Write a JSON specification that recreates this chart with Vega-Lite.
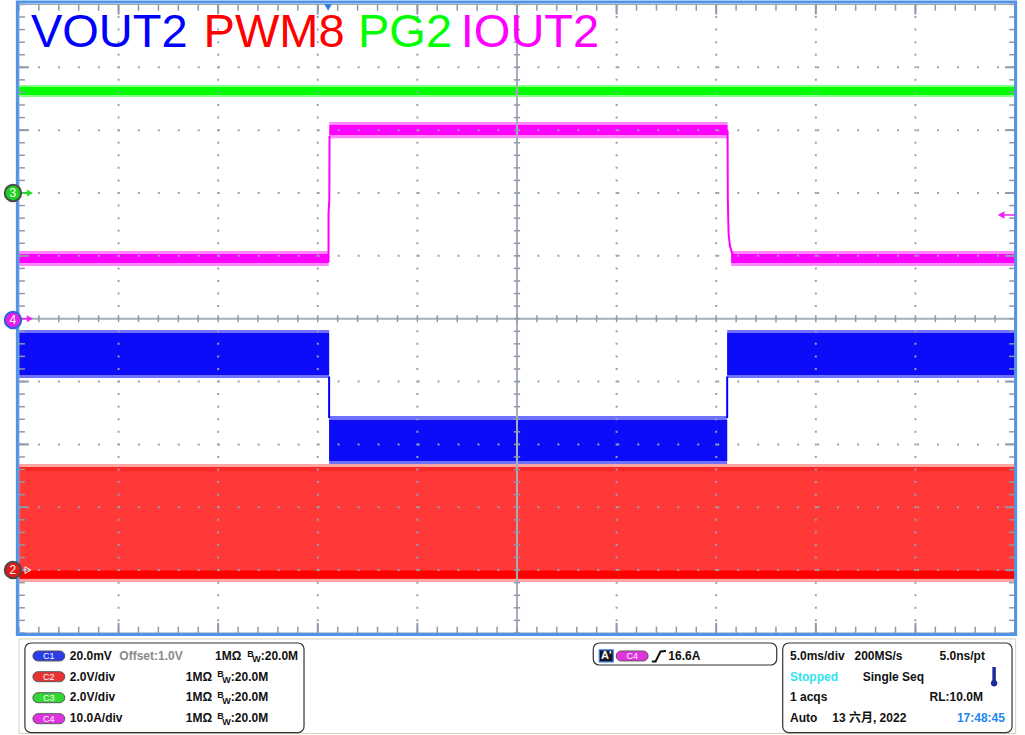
{
"$schema":"https://vega.github.io/schema/vega-lite/v6.json",
"width":1025,"height":735,
"autosize":{"type":"fit","contains":"padding"},
"padding":0,
"background":"#ffffff",
"config":{"view":{"stroke":null},"text":{"font":"Liberation Sans, Noto Sans CJK SC"},"axis":{"disable":true}},
"resolve":{"scale":{"color":"independent","fill":"independent","stroke":"independent"}},
"datasets":{
"frames":[
{"n":"panel","t":-25.0,"t2":25.03,"v":-5.096,"v2":-6.60},
{"n":"grey","t":-25,"t2":25,"v":5,"v2":-5},
{"n":"blue","t":-25.08,"t2":25.03,"v":5.039,"v2":-5.025},
{"n":"box","t":-24.70,"t2":-10.69,"v":-5.160,"v2":-6.585},
{"n":"box","t":3.829,"t2":13.038,"v":-5.160,"v2":-5.510},
{"n":"box","t":13.338,"t2":24.850,"v":-5.160,"v2":-6.585},
{"n":"abox","t":4.129,"t2":4.830,"v":-5.271,"v2":-5.462}
],
"bands":[
{"ch":"C2","k":"pk","t":-25,"t2":25,"v":-2.312,"v2":-4.189},
{"ch":"C2","k":"core","t":-25,"t2":25,"v":-2.359,"v2":-4.141},
{"ch":"C1","k":"pk","t":-25,"t2":-9.43,"v":-0.18,"v2":-0.944},
{"ch":"C1","k":"core","t":-25,"t2":-9.43,"v":-0.228,"v2":-0.896},
{"ch":"C1","k":"pk","t":-9.43,"t2":10.55,"v":-1.548,"v2":-2.312},
{"ch":"C1","k":"core","t":-9.43,"t2":10.55,"v":-1.612,"v2":-2.264},
{"ch":"C1","k":"pk","t":10.55,"t2":25,"v":-0.18,"v2":-0.944},
{"ch":"C1","k":"core","t":10.55,"t2":25,"v":-0.228,"v2":-0.896},
{"ch":"C4","k":"pk","t":-25,"t2":-9.45,"v":1.077,"v2":0.838},
{"ch":"C4","k":"core","t":-25,"t2":-9.45,"v":1.029,"v2":0.886},
{"ch":"C4","k":"pk","t":-9.42,"t2":10.57,"v":3.13,"v2":2.87},
{"ch":"C4","k":"core","t":-9.42,"t2":10.57,"v":3.082,"v2":2.923},
{"ch":"C4","k":"pk","t":10.75,"t2":25,"v":1.077,"v2":0.838},
{"ch":"C4","k":"core","t":10.75,"t2":25,"v":1.029,"v2":0.886},
{"ch":"C3","k":"pk","t":-25,"t2":25,"v":3.718,"v2":3.527},
{"ch":"C3","k":"core","t":-25,"t2":25,"v":3.686,"v2":3.559}
],
"levels":[{"ch":"C2","lvl":"high","v":-2.39},{"ch":"C2","lvl":"low","v":-4.07}],
"edges":[
{"ch":"C1","seg":"b1","i":0,"t":-9.43,"v":-0.92},{"ch":"C1","seg":"b1","i":1,"t":-9.43,"v":-1.58},
{"ch":"C1","seg":"b2","i":0,"t":10.55,"v":-1.58},{"ch":"C1","seg":"b2","i":1,"t":10.55,"v":-0.92},
{"ch":"C4","seg":"m1","i":0,"t":-9.46,"v":0.9},{"ch":"C4","seg":"m1","i":1,"t":-9.46,"v":1.68},{"ch":"C4","seg":"m1","i":2,"t":-9.42,"v":1.89},{"ch":"C4","seg":"m1","i":3,"t":-9.41,"v":2.91},
{"ch":"C4","seg":"m2","i":0,"t":10.571,"v":3.0},{"ch":"C4","seg":"m2","i":1,"t":10.581,"v":1.928},{"ch":"C4","seg":"m2","i":2,"t":10.621,"v":1.355},{"ch":"C4","seg":"m2","i":3,"t":10.686,"v":1.164},{"ch":"C4","seg":"m2","i":4,"t":10.786,"v":1.053},{"ch":"C4","seg":"m2","i":5,"t":10.936,"v":0.99}
],
"vmaj":[{"t":-20},{"t":-15},{"t":-10},{"t":-5},{"t":5},{"t":10},{"t":15},{"t":20}],
"hmaj":[{"v":-4},{"v":-3},{"v":-2},{"v":-1},{"v":1},{"v":2},{"v":3},{"v":4}],
"center":[{"t":0,"v":0}],
"tmin":[{"t":-25},{"t":-24},{"t":-23},{"t":-22},{"t":-21},{"t":-20},{"t":-19},{"t":-18},{"t":-17},{"t":-16},{"t":-15},{"t":-14},{"t":-13},{"t":-12},{"t":-11},{"t":-10},{"t":-9},{"t":-8},{"t":-7},{"t":-6},{"t":-5},{"t":-4},{"t":-3},{"t":-2},{"t":-1},{"t":0},{"t":1},{"t":2},{"t":3},{"t":4},{"t":5},{"t":6},{"t":7},{"t":8},{"t":9},{"t":10},{"t":11},{"t":12},{"t":13},{"t":14},{"t":15},{"t":16},{"t":17},{"t":18},{"t":19},{"t":20},{"t":21},{"t":22},{"t":23},{"t":24},{"t":25}],
"vmin":[{"v":-5},{"v":-4.8},{"v":-4.6},{"v":-4.4},{"v":-4.2},{"v":-4},{"v":-3.8},{"v":-3.6},{"v":-3.4},{"v":-3.2},{"v":-3},{"v":-2.8},{"v":-2.6},{"v":-2.4},{"v":-2.2},{"v":-2},{"v":-1.8},{"v":-1.6},{"v":-1.4},{"v":-1.2},{"v":-1},{"v":-0.8},{"v":-0.6},{"v":-0.4},{"v":-0.2},{"v":0},{"v":0.2},{"v":0.4},{"v":0.6},{"v":0.8},{"v":1},{"v":1.2},{"v":1.4},{"v":1.6},{"v":1.8},{"v":2},{"v":2.2},{"v":2.4},{"v":2.6},{"v":2.8},{"v":3},{"v":3.2},{"v":3.4},{"v":3.6},{"v":3.8},{"v":4},{"v":4.2},{"v":4.4},{"v":4.6},{"v":4.8},{"v":5}],
"markers":[{"id":"3","ch":"C3","t":-25.3,"v":2.0},{"id":"4","ch":"C4","t":-25.3,"v":-0.02},{"id":"2","ch":"C2","t":-25.3,"v":-4.0}],
"titles":[{"s":"VOUT2","ch":"C1","t":-24.40,"v":4.33},{"s":"PWM8","ch":"C2","t":-15.73,"v":4.33},{"s":"PG2","ch":"C3","t":-7.98,"v":4.33},{"s":"IOUT2","ch":"C4","t":-2.82,"v":4.33}],
"pills":[
{"ch":"C1","lab":"C1","t":-24.299,"t2":-22.698,"v":-5.287,"v2":-5.446,"tc":-23.498,"vc":-5.367},
{"ch":"C2","lab":"C2","t":-24.299,"t2":-22.698,"v":-5.617,"v2":-5.776,"tc":-23.498,"vc":-5.696},
{"ch":"C3","lab":"C3","t":-24.299,"t2":-22.698,"v":-5.951,"v2":-6.110,"tc":-23.498,"vc":-6.030},
{"ch":"C4","lab":"C4","t":-24.299,"t2":-22.698,"v":-6.285,"v2":-6.444,"tc":-23.498,"vc":-6.364},
{"ch":"C4","lab":"C4","t":4.980,"t2":6.582,"v":-5.287,"v2":-5.446,"tc":5.781,"vc":-5.367}
],
"ptext":[
{"s":"20.0mV","t":-22.447,"v":-5.430,"k":"norm"},
{"s":"Offset:1.0V","t":-19.96,"v":-5.430,"k":"grey"},
{"s":"1MΩ","t":-15.155,"v":-5.430,"k":"norm"},
{"s":"B","t":-13.539,"v":-5.383,"k":"sup"},
{"s":"W","t":-13.288,"v":-5.470,"k":"sup"},
{"s":":20.0M","t":-12.863,"v":-5.430,"k":"norm"},
{"s":"2.0V/div","t":-22.447,"v":-5.757,"k":"norm"},
{"s":"1MΩ","t":-16.627,"v":-5.757,"k":"norm"},
{"s":"B","t":-15.050,"v":-5.709,"k":"sup"},
{"s":"W","t":-14.790,"v":-5.796,"k":"sup"},
{"s":":20.0M","t":-14.364,"v":-5.757,"k":"norm"},
{"s":"2.0V/div","t":-22.447,"v":-6.088,"k":"norm"},
{"s":"1MΩ","t":-16.627,"v":-6.088,"k":"norm"},
{"s":"B","t":-15.050,"v":-6.040,"k":"sup"},
{"s":"W","t":-14.790,"v":-6.127,"k":"sup"},
{"s":":20.0M","t":-14.364,"v":-6.088,"k":"norm"},
{"s":"10.0A/div","t":-22.447,"v":-6.417,"k":"norm"},
{"s":"1MΩ","t":-16.627,"v":-6.417,"k":"norm"},
{"s":"B","t":-15.050,"v":-6.369,"k":"sup"},
{"s":"W","t":-14.790,"v":-6.457,"k":"sup"},
{"s":":20.0M","t":-14.364,"v":-6.417,"k":"norm"},
{"s":"16.6A","t":7.598,"v":-5.430,"k":"norm"},
{"s":"5.0ms/div","t":13.704,"v":-5.430,"k":"norm"},
{"s":"200MS/s","t":16.942,"v":-5.430,"k":"norm"},
{"s":"5.0ns/pt","t":21.211,"v":-5.430,"k":"norm"},
{"s":"Stopped","t":13.704,"v":-5.757,"k":"cyan"},
{"s":"Single Seq","t":17.357,"v":-5.757,"k":"norm"},
{"s":"1 acqs","t":13.704,"v":-6.088,"k":"norm"},
{"s":"RL:10.0M","t":20.711,"v":-6.088,"k":"norm"},
{"s":"Auto","t":13.704,"v":-6.417,"k":"norm"},
{"s":"13 六月, 2022","t":15.826,"v":-6.417,"k":"norm"},
{"s":"17:48:45","t":22.082,"v":-6.417,"k":"blue"}
],
"edgesym":[{"i":0,"t":6.767,"v":-5.454},{"i":1,"t":6.957,"v":-5.454},{"i":2,"t":7.207,"v":-5.295},{"i":3,"t":7.482,"v":-5.287}]
},
"layer":[
{"data":{"name":"frames"},"transform":[{"filter":"datum.n==='panel'"}],"mark":{"type":"rect","fill":"#ffffff","stroke":"#d9cfb6","strokeWidth":1},"encoding":{"x":{"field":"t","type":"quantitative","scale":{"domain":[-25.8,25.5],"nice":false,"zero":false},"axis":null},"x2":{"field":"t2"},"y":{"field":"v","type":"quantitative","scale":{"domain":[-6.624,5.071],"nice":false,"zero":false},"axis":null},"y2":{"field":"v2"}}},
{"data":{"name":"bands"},"transform":[{"filter":"datum.k==='pk'"}],"mark":{"type":"rect"},"encoding":{"x":{"field":"t","type":"quantitative","scale":{"domain":[-25.8,25.5],"nice":false,"zero":false},"axis":null},"x2":{"field":"t2"},"y":{"field":"v","type":"quantitative","scale":{"domain":[-6.624,5.071],"nice":false,"zero":false},"axis":null},"y2":{"field":"v2"},"color":{"field":"ch","type":"nominal","scale":{"domain":["C1","C2","C3","C4"],"range":["#7070ff","#ffa3a3","#86ff86","#ff86ff"]},"legend":null}}},
{"data":{"name":"bands"},"transform":[{"filter":"datum.k==='core'"}],"mark":{"type":"rect"},"encoding":{"x":{"field":"t","type":"quantitative","scale":{"domain":[-25.8,25.5],"nice":false,"zero":false},"axis":null},"x2":{"field":"t2"},"y":{"field":"v","type":"quantitative","scale":{"domain":[-6.624,5.071],"nice":false,"zero":false},"axis":null},"y2":{"field":"v2"},"color":{"field":"ch","type":"nominal","scale":{"domain":["C1","C2","C3","C4"],"range":["#0c0cf8","#ff3838","#00ff00","#ff00ff"]},"legend":null}}},
{"data":{"name":"levels"},"transform":[{"filter":"datum.lvl==='high'"}],"mark":{"type":"rule","color":"#ff2626","strokeWidth":4},"encoding":{"x":{"datum":-25,"type":"quantitative","scale":{"domain":[-25.8,25.5],"nice":false,"zero":false},"axis":null},"x2":{"datum":25},"y":{"field":"v","type":"quantitative","scale":{"domain":[-6.624,5.071],"nice":false,"zero":false},"axis":null}}},
{"data":{"name":"levels"},"transform":[{"filter":"datum.lvl==='low'"}],"mark":{"type":"rule","color":"#ff0000","strokeWidth":8},"encoding":{"x":{"datum":-25,"type":"quantitative","scale":{"domain":[-25.8,25.5],"nice":false,"zero":false},"axis":null},"x2":{"datum":25},"y":{"field":"v","type":"quantitative","scale":{"domain":[-6.624,5.071],"nice":false,"zero":false},"axis":null}}},
{"data":{"name":"edges"},"mark":{"type":"line","strokeWidth":2},"encoding":{"x":{"field":"t","type":"quantitative","scale":{"domain":[-25.8,25.5],"nice":false,"zero":false},"axis":null},"y":{"field":"v","type":"quantitative","scale":{"domain":[-6.624,5.071],"nice":false,"zero":false},"axis":null},"detail":{"field":"seg"},"order":{"field":"i","type":"quantitative"},"color":{"field":"ch","type":"nominal","scale":{"domain":["C1","C4"],"range":["#0000ff","#ff00ff"]},"legend":null}}},
{"data":{"name":"vmaj"},"mark":{"type":"rule","color":"#98a1b1","strokeWidth":2,"strokeDash":[2,10.57],"strokeDashOffset":1},"encoding":{"x":{"field":"t","type":"quantitative","scale":{"domain":[-25.8,25.5],"nice":false,"zero":false},"axis":null},"y":{"datum":-5,"type":"quantitative","scale":{"domain":[-6.624,5.071],"nice":false,"zero":false},"axis":null},"y2":{"datum":5}}},
{"data":{"name":"hmaj"},"mark":{"type":"rule","color":"#98a1b1","strokeWidth":2,"strokeDash":[2,17.98],"strokeDashOffset":1},"encoding":{"x":{"datum":-25,"type":"quantitative","scale":{"domain":[-25.8,25.5],"nice":false,"zero":false},"axis":null},"x2":{"datum":25},"y":{"field":"v","type":"quantitative","scale":{"domain":[-6.624,5.071],"nice":false,"zero":false},"axis":null}}},
{"data":{"name":"center"},"mark":{"type":"rule","color":"#a6aebb","strokeWidth":2},"encoding":{"x":{"field":"t","type":"quantitative","scale":{"domain":[-25.8,25.5],"nice":false,"zero":false},"axis":null},"y":{"datum":-5,"type":"quantitative","scale":{"domain":[-6.624,5.071],"nice":false,"zero":false},"axis":null},"y2":{"datum":5}}},
{"data":{"name":"center"},"mark":{"type":"rule","color":"#a6aebb","strokeWidth":2},"encoding":{"x":{"datum":-25,"type":"quantitative","scale":{"domain":[-25.8,25.5],"nice":false,"zero":false},"axis":null},"x2":{"datum":25},"y":{"field":"v","type":"quantitative","scale":{"domain":[-6.624,5.071],"nice":false,"zero":false},"axis":null}}},
{"data":{"name":"tmin"},"mark":{"type":"rule","color":"#8f99aa","strokeWidth":1.5},"encoding":{"x":{"field":"t","type":"quantitative","scale":{"domain":[-25.8,25.5],"nice":false,"zero":false},"axis":null},"y":{"datum":-0.055,"type":"quantitative","scale":{"domain":[-6.624,5.071],"nice":false,"zero":false},"axis":null},"y2":{"datum":0.055}}},
{"data":{"name":"vmin"},"mark":{"type":"rule","color":"#8f99aa","strokeWidth":1.5},"encoding":{"x":{"datum":-0.16,"type":"quantitative","scale":{"domain":[-25.8,25.5],"nice":false,"zero":false},"axis":null},"x2":{"datum":0.16},"y":{"field":"v","type":"quantitative","scale":{"domain":[-6.624,5.071],"nice":false,"zero":false},"axis":null}}},
{"data":{"name":"tmin"},"mark":{"type":"rule","color":"#8f99aa","strokeWidth":1.5},"encoding":{"x":{"field":"t","type":"quantitative","scale":{"domain":[-25.8,25.5],"nice":false,"zero":false},"axis":null},"y":{"datum":5,"type":"quantitative","scale":{"domain":[-6.624,5.071],"nice":false,"zero":false},"axis":null},"y2":{"datum":4.9}}},
{"data":{"name":"tmin"},"mark":{"type":"rule","color":"#8f99aa","strokeWidth":1.5},"encoding":{"x":{"field":"t","type":"quantitative","scale":{"domain":[-25.8,25.5],"nice":false,"zero":false},"axis":null},"y":{"datum":-5,"type":"quantitative","scale":{"domain":[-6.624,5.071],"nice":false,"zero":false},"axis":null},"y2":{"datum":-4.9}}},
{"data":{"name":"vmin"},"mark":{"type":"rule","color":"#8f99aa","strokeWidth":1.5},"encoding":{"x":{"datum":-25,"type":"quantitative","scale":{"domain":[-25.8,25.5],"nice":false,"zero":false},"axis":null},"x2":{"datum":-24.7},"y":{"field":"v","type":"quantitative","scale":{"domain":[-6.624,5.071],"nice":false,"zero":false},"axis":null}}},
{"data":{"name":"vmin"},"mark":{"type":"rule","color":"#8f99aa","strokeWidth":1.5},"encoding":{"x":{"datum":25,"type":"quantitative","scale":{"domain":[-25.8,25.5],"nice":false,"zero":false},"axis":null},"x2":{"datum":24.7},"y":{"field":"v","type":"quantitative","scale":{"domain":[-6.624,5.071],"nice":false,"zero":false},"axis":null}}},
{"data":{"name":"vmaj"},"mark":{"type":"rule","color":"#8f99aa","strokeWidth":2},"encoding":{"x":{"field":"t","type":"quantitative","scale":{"domain":[-25.8,25.5],"nice":false,"zero":false},"axis":null},"y":{"datum":5,"type":"quantitative","scale":{"domain":[-6.624,5.071],"nice":false,"zero":false},"axis":null},"y2":{"datum":4.84}}},
{"data":{"name":"vmaj"},"mark":{"type":"rule","color":"#8f99aa","strokeWidth":2},"encoding":{"x":{"field":"t","type":"quantitative","scale":{"domain":[-25.8,25.5],"nice":false,"zero":false},"axis":null},"y":{"datum":-5,"type":"quantitative","scale":{"domain":[-6.624,5.071],"nice":false,"zero":false},"axis":null},"y2":{"datum":-4.84}}},
{"data":{"name":"hmaj"},"mark":{"type":"rule","color":"#8f99aa","strokeWidth":2},"encoding":{"x":{"datum":-25,"type":"quantitative","scale":{"domain":[-25.8,25.5],"nice":false,"zero":false},"axis":null},"x2":{"datum":-24.5},"y":{"field":"v","type":"quantitative","scale":{"domain":[-6.624,5.071],"nice":false,"zero":false},"axis":null}}},
{"data":{"name":"hmaj"},"mark":{"type":"rule","color":"#8f99aa","strokeWidth":2},"encoding":{"x":{"datum":25,"type":"quantitative","scale":{"domain":[-25.8,25.5],"nice":false,"zero":false},"axis":null},"x2":{"datum":24.5},"y":{"field":"v","type":"quantitative","scale":{"domain":[-6.624,5.071],"nice":false,"zero":false},"axis":null}}},
{"data":{"name":"frames"},"transform":[{"filter":"datum.n==='grey'"}],"mark":{"type":"rect","fill":"#ffffff","fillOpacity":0,"stroke":"#9aa3b3","strokeWidth":1},"encoding":{"x":{"field":"t","type":"quantitative","scale":{"domain":[-25.8,25.5],"nice":false,"zero":false},"axis":null},"x2":{"field":"t2"},"y":{"field":"v","type":"quantitative","scale":{"domain":[-6.624,5.071],"nice":false,"zero":false},"axis":null},"y2":{"field":"v2"}}},
{"data":{"name":"frames"},"transform":[{"filter":"datum.n==='blue'"}],"mark":{"type":"rect","fill":"#ffffff","fillOpacity":0,"stroke":"#4f94e8","strokeWidth":3},"encoding":{"x":{"field":"t","type":"quantitative","scale":{"domain":[-25.8,25.5],"nice":false,"zero":false},"axis":null},"x2":{"field":"t2"},"y":{"field":"v","type":"quantitative","scale":{"domain":[-6.624,5.071],"nice":false,"zero":false},"axis":null},"y2":{"field":"v2"}}},
{"data":{"values":[{"t":-24.95,"t2":-24.6,"v":2.0,"ch":"C3"},{"t":-24.95,"t2":-24.6,"v":0.0,"ch":"C4"},{"t":24.4,"t2":25.0,"v":1.65,"ch":"C4"}]},"mark":{"type":"rule","strokeWidth":1.5},"encoding":{"x":{"field":"t","type":"quantitative","scale":{"domain":[-25.8,25.5],"nice":false,"zero":false},"axis":null},"x2":{"field":"t2"},"y":{"field":"v","type":"quantitative","scale":{"domain":[-6.624,5.071],"nice":false,"zero":false},"axis":null},"color":{"field":"ch","type":"nominal","scale":{"domain":["C3","C4"],"range":["#22dd22","#ee22ee"]},"legend":null}}},
{"data":{"values":[{"t":-24.45,"v":2.0,"ch":"C3"},{"t":-24.45,"v":0.0,"ch":"C4"}]},"mark":{"type":"point","shape":"triangle-right","filled":true,"size":50,"opacity":1},"encoding":{"x":{"field":"t","type":"quantitative","scale":{"domain":[-25.8,25.5],"nice":false,"zero":false},"axis":null},"y":{"field":"v","type":"quantitative","scale":{"domain":[-6.624,5.071],"nice":false,"zero":false},"axis":null},"color":{"field":"ch","type":"nominal","scale":{"domain":["C3","C4"],"range":["#22dd22","#ee22ee"]},"legend":null}}},
{"data":{"values":[{"t":-24.55,"v":-4.0}]},"mark":{"type":"point","shape":"triangle-right","filled":false,"size":45,"stroke":"#ffffff","strokeWidth":1,"opacity":1},"encoding":{"x":{"field":"t","type":"quantitative","scale":{"domain":[-25.8,25.5],"nice":false,"zero":false},"axis":null},"y":{"field":"v","type":"quantitative","scale":{"domain":[-6.624,5.071],"nice":false,"zero":false},"axis":null}}},
{"data":{"values":[{"t":24.3,"v":1.65}]},"mark":{"type":"point","shape":"triangle-left","filled":true,"size":60,"color":"#ee22ee","opacity":1},"encoding":{"x":{"field":"t","type":"quantitative","scale":{"domain":[-25.8,25.5],"nice":false,"zero":false},"axis":null},"y":{"field":"v","type":"quantitative","scale":{"domain":[-6.624,5.071],"nice":false,"zero":false},"axis":null}}},
{"data":{"values":[{"t":-9.48,"v":4.955}]},"mark":{"type":"point","shape":"triangle-down","filled":true,"size":60,"color":"#2f7fe0","opacity":1},"encoding":{"x":{"field":"t","type":"quantitative","scale":{"domain":[-25.8,25.5],"nice":false,"zero":false},"axis":null},"y":{"field":"v","type":"quantitative","scale":{"domain":[-6.624,5.071],"nice":false,"zero":false},"axis":null}}},
{"data":{"name":"markers"},"mark":{"type":"point","shape":"circle","filled":true,"size":270,"strokeWidth":2,"opacity":1},"encoding":{"x":{"field":"t","type":"quantitative","scale":{"domain":[-25.8,25.5],"nice":false,"zero":false},"axis":null},"y":{"field":"v","type":"quantitative","scale":{"domain":[-6.624,5.071],"nice":false,"zero":false},"axis":null},"fill":{"field":"ch","type":"nominal","scale":{"domain":["C2","C3","C4"],"range":["#e01a1a","#1fd11f","#e51fe5"]},"legend":null},"stroke":{"field":"ch","type":"nominal","scale":{"domain":["C2","C3","C4"],"range":["#4a4a4a","#4a4a4a","#2d62dd"]},"legend":null}}},
{"data":{"name":"markers"},"mark":{"type":"text","color":"#ffffff","fontSize":12,"align":"center","baseline":"middle"},"encoding":{"x":{"field":"t","type":"quantitative","scale":{"domain":[-25.8,25.5],"nice":false,"zero":false},"axis":null},"y":{"field":"v","type":"quantitative","scale":{"domain":[-6.624,5.071],"nice":false,"zero":false},"axis":null},"text":{"field":"id"}}},
{"data":{"name":"titles"},"mark":{"type":"text","fontSize":47,"align":"left","baseline":"alphabetic","font":"Liberation Sans"},"encoding":{"x":{"field":"t","type":"quantitative","scale":{"domain":[-25.8,25.5],"nice":false,"zero":false},"axis":null},"y":{"field":"v","type":"quantitative","scale":{"domain":[-6.624,5.071],"nice":false,"zero":false},"axis":null},"text":{"field":"s"},"color":{"field":"ch","type":"nominal","scale":{"domain":["C1","C2","C3","C4"],"range":["#0000ff","#ff0000","#00ff00","#ff00ff"]},"legend":null}}},
{"data":{"name":"frames"},"transform":[{"filter":"datum.n==='box'"}],"mark":{"type":"rect","fill":"#ffffff","fillOpacity":0,"stroke":"#333333","strokeWidth":1.2,"cornerRadius":6},"encoding":{"x":{"field":"t","type":"quantitative","scale":{"domain":[-25.8,25.5],"nice":false,"zero":false},"axis":null},"x2":{"field":"t2"},"y":{"field":"v","type":"quantitative","scale":{"domain":[-6.624,5.071],"nice":false,"zero":false},"axis":null},"y2":{"field":"v2"}}},
{"data":{"name":"pills"},"mark":{"type":"rect","cornerRadius":5.5,"stroke":"#5a5a5a","strokeWidth":1},"encoding":{"x":{"field":"t","type":"quantitative","scale":{"domain":[-25.8,25.5],"nice":false,"zero":false},"axis":null},"x2":{"field":"t2"},"y":{"field":"v","type":"quantitative","scale":{"domain":[-6.624,5.071],"nice":false,"zero":false},"axis":null},"y2":{"field":"v2"},"color":{"field":"ch","type":"nominal","scale":{"domain":["C1","C2","C3","C4"],"range":["#2b3ce8","#e83333","#33d633","#e033e0"]},"legend":null}}},
{"data":{"name":"pills"},"mark":{"type":"text","color":"#ffffff","fontSize":9,"align":"center","baseline":"middle"},"encoding":{"x":{"field":"tc","type":"quantitative","scale":{"domain":[-25.8,25.5],"nice":false,"zero":false},"axis":null},"y":{"field":"vc","type":"quantitative","scale":{"domain":[-6.624,5.071],"nice":false,"zero":false},"axis":null},"text":{"field":"lab"}}},
{"data":{"name":"frames"},"transform":[{"filter":"datum.n==='abox'"}],"mark":{"type":"rect","fill":"#141420","stroke":"#3b7be0","strokeWidth":1.2},"encoding":{"x":{"field":"t","type":"quantitative","scale":{"domain":[-25.8,25.5],"nice":false,"zero":false},"axis":null},"x2":{"field":"t2"},"y":{"field":"v","type":"quantitative","scale":{"domain":[-6.624,5.071],"nice":false,"zero":false},"axis":null},"y2":{"field":"v2"}}},
{"data":{"values":[{"t":4.48,"v":-5.367,"s":"A'"}]},"mark":{"type":"text","color":"#ffffff","fontSize":11,"fontWeight":"bold","align":"center","baseline":"middle"},"encoding":{"x":{"field":"t","type":"quantitative","scale":{"domain":[-25.8,25.5],"nice":false,"zero":false},"axis":null},"y":{"field":"v","type":"quantitative","scale":{"domain":[-6.624,5.071],"nice":false,"zero":false},"axis":null},"text":{"field":"s"}}},
{"data":{"name":"edgesym"},"mark":{"type":"line","color":"#111111","strokeWidth":2},"encoding":{"x":{"field":"t","type":"quantitative","scale":{"domain":[-25.8,25.5],"nice":false,"zero":false},"axis":null},"y":{"field":"v","type":"quantitative","scale":{"domain":[-6.624,5.071],"nice":false,"zero":false},"axis":null},"order":{"field":"i","type":"quantitative"}}},
{"data":{"name":"ptext"},"transform":[{"filter":"datum.k!=='sup'"}],"mark":{"type":"text","fontSize":12,"fontWeight":"bold","align":"left","baseline":"alphabetic"},"encoding":{"x":{"field":"t","type":"quantitative","scale":{"domain":[-25.8,25.5],"nice":false,"zero":false},"axis":null},"y":{"field":"v","type":"quantitative","scale":{"domain":[-6.624,5.071],"nice":false,"zero":false},"axis":null},"text":{"field":"s"},"color":{"field":"k","type":"nominal","scale":{"domain":["norm","grey","cyan","blue"],"range":["#111111","#8a8a8a","#2fe3ee","#1f86ee"]},"legend":null}}},
{"data":{"name":"ptext"},"transform":[{"filter":"datum.k==='sup'"}],"mark":{"type":"text","fontSize":9,"fontWeight":"bold","align":"left","baseline":"alphabetic","color":"#111111"},"encoding":{"x":{"field":"t","type":"quantitative","scale":{"domain":[-25.8,25.5],"nice":false,"zero":false},"axis":null},"y":{"field":"v","type":"quantitative","scale":{"domain":[-6.624,5.071],"nice":false,"zero":false},"axis":null},"text":{"field":"s"}}},
{"data":{"values":[{"t":23.949,"v":-5.542,"v2":-5.765}]},"mark":{"type":"rule","color":"#1b2c9c","strokeWidth":3.5},"encoding":{"x":{"field":"t","type":"quantitative","scale":{"domain":[-25.8,25.5],"nice":false,"zero":false},"axis":null},"y":{"field":"v","type":"quantitative","scale":{"domain":[-6.624,5.071],"nice":false,"zero":false},"axis":null},"y2":{"field":"v2"}}},
{"data":{"values":[{"t":23.949,"v":-5.80}]},"mark":{"type":"point","shape":"circle","filled":true,"size":40,"color":"#1b2c9c","opacity":1},"encoding":{"x":{"field":"t","type":"quantitative","scale":{"domain":[-25.8,25.5],"nice":false,"zero":false},"axis":null},"y":{"field":"v","type":"quantitative","scale":{"domain":[-6.624,5.071],"nice":false,"zero":false},"axis":null}}}
]
}
